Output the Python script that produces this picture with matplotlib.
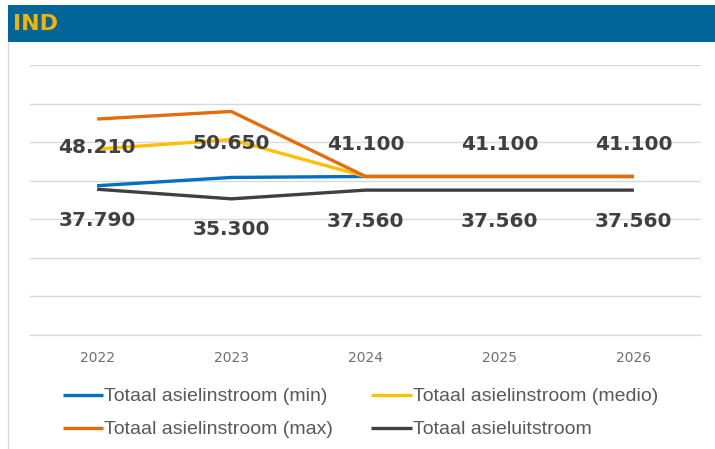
import numpy as np
import matplotlib
matplotlib.use("Agg")
import matplotlib.pyplot as plt
from matplotlib.patches import Rectangle
from matplotlib.lines import Line2D

years = ["2022", "2023", "2024", "2025", "2026"]
instroom_min = [38700, 40850, 41100, 41100, 41100]
instroom_medio = [48210, 50650, 41100, 41100, 41100]
instroom_max = [56000, 57950, 41100, 41100, 41100]
uitstroom = [37790, 35300, 37560, 37560, 37560]

labels = ["Totaal asielinstroom (min)", "Totaal asielinstroom (medio)",
          "Totaal asielinstroom (max)", "Totaal asieluitstroom"]
colors = ["#0070C0", "#FFC000", "#E46C0A", "#404040"]

fig = plt.figure(figsize=(7.15, 4.49), dpi=100)

# header bar
fig.patches.append(Rectangle((8/715, 1-42/449), 1, 37/449, transform=fig.transFigure,
                             facecolor="#006699", edgecolor="none"))
fig.text(13/715, 1-24/449, "IND", color="#F2B400", fontsize=16, fontweight="bold",
         va="center", ha="left", family="DejaVu Sans")
fig.lines.append(Line2D([8/715, 8/715], [0, 1-42/449], transform=fig.transFigure,
                        color="#d9d9d9", lw=1))

ax = fig.add_axes([30/715, 1-335/449, 671/715, 270/449])
x = np.arange(len(years))
handles = []
for vals, c, lab in zip([instroom_min, instroom_medio, instroom_max, uitstroom], colors, labels):
    h, = ax.plot(x, vals, color=c, lw=2.4, label=lab, solid_capstyle="butt")
    handles.append(h)

ax.set_xlim(-0.5, len(years) - 0.5)
ax.set_ylim(0, 70000)
ax.set_yticks(np.arange(0, 70001, 10000))
ax.yaxis.grid(True, color="#d9d9d9", lw=1)
ax.set_axisbelow(True)
ax.tick_params(axis="y", left=False, labelleft=False)
ax.tick_params(axis="x", bottom=False, labelsize=10, labelcolor="#6f6f6f", pad=8)
ax.set_xticks(x)
ax.set_xticklabels(years)
for s in ["top", "left", "right"]:
    ax.spines[s].set_visible(False)
ax.spines["bottom"].set_color("#d9d9d9")

def fmt(v):
    return f"{v:,}".replace(",", ".")

medio_dy = [2, -4, 32, 32, 32]
for xi, v, dy in zip(x, instroom_medio, medio_dy):
    ax.annotate(fmt(v), (xi, v), xytext=(0, dy), textcoords="offset pixels",
                ha="center", va="center", fontsize=14.5, fontweight="bold", color="#404040")
for xi, v in zip(x, uitstroom):
    ax.annotate(fmt(v), (xi, v), xytext=(0, -31), textcoords="offset pixels",
                ha="center", va="center", fontsize=14.5, fontweight="bold", color="#404040")

# row-wise legend order: min, medio / max, uitstroom
order = [0, 2, 1, 3]
fig.legend([handles[i] for i in order], [labels[i] for i in order],
           loc="lower left", bbox_to_anchor=(45/715, -7/449), ncol=2, frameon=False,
           labelcolor="#595959", handlelength=2.1, handletextpad=0.05,
           columnspacing=1.95, labelspacing=0.8,
           prop={"family": "Liberation Sans", "size": 14})

fig.savefig("out.png", dpi=100)
